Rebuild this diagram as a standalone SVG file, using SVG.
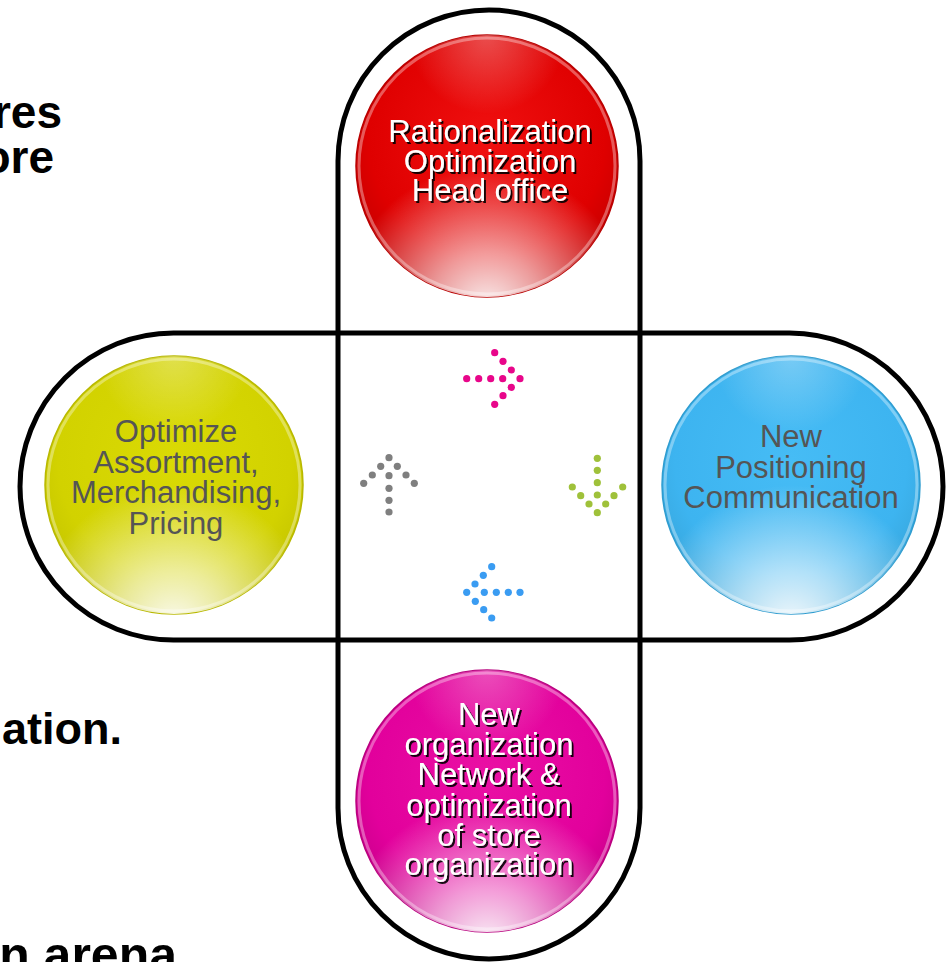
<svg xmlns="http://www.w3.org/2000/svg" width="947" height="962" viewBox="0 0 947 962">
  <style>
    .frame { fill: none; stroke: #000; stroke-width: 5; }
    .side { font-family: "Liberation Sans", Arial, sans-serif; font-weight: bold; fill: #000; text-anchor: end; }
    .lbl { font-family: "Liberation Sans", Arial, sans-serif; font-size: 31px; text-anchor: middle; }
    .lbl-w { fill: #fff; filter: url(#shadow); }
    .lbl-g { fill: #555; }
    .glow { fill: url(#bottomGlow); }
    .sheen { fill: url(#topSheen); }
    .rim { fill: none; stroke: #fff; stroke-opacity: 0.35; stroke-width: 3; }
    .pink circle { fill: #e8068a; }
    .gray circle { fill: #7f7f7f; }
    .green circle { fill: #9fc13a; }
    .blue circle { fill: #3a9cf2; }
  </style>
  <defs>
    <filter id="shadow" x="-10%" y="-10%" width="120%" height="130%">
      <feDropShadow dx="2" dy="2" stdDeviation="0.4" flood-color="#000" flood-opacity="0.9"/>
    </filter>
    <radialGradient id="bottomGlow" cx="0.5" cy="1.05" r="0.55">
      <stop offset="0" stop-color="#fff" stop-opacity="0.95"/>
      <stop offset="0.4" stop-color="#fff" stop-opacity="0.6"/>
      <stop offset="1" stop-color="#fff" stop-opacity="0"/>
    </radialGradient>
    <radialGradient id="topSheen" cx="0.5" cy="0" r="0.3">
      <stop offset="0" stop-color="#fff" stop-opacity="0.3"/>
      <stop offset="1" stop-color="#fff" stop-opacity="0"/>
    </radialGradient>
    <radialGradient id="redFill" cx="0.5" cy="0.4" r="0.6">
      <stop offset="0" stop-color="#f01010"/>
      <stop offset="0.75" stop-color="#df0000"/>
      <stop offset="1" stop-color="#c40000"/>
    </radialGradient>
    <radialGradient id="yellowFill" cx="0.5" cy="0.4" r="0.6">
      <stop offset="0" stop-color="#dada04"/>
      <stop offset="0.75" stop-color="#d2d200"/>
      <stop offset="1" stop-color="#c4c400"/>
    </radialGradient>
    <radialGradient id="blueFill" cx="0.5" cy="0.4" r="0.6">
      <stop offset="0" stop-color="#46bcf5"/>
      <stop offset="0.75" stop-color="#3db4f0"/>
      <stop offset="1" stop-color="#37a6dc"/>
    </radialGradient>
    <radialGradient id="magentaFill" cx="0.5" cy="0.4" r="0.6">
      <stop offset="0" stop-color="#ea10a4"/>
      <stop offset="0.75" stop-color="#e2009c"/>
      <stop offset="1" stop-color="#c8008a"/>
    </radialGradient>
  </defs>

  <rect width="947" height="962" fill="#fff"/>

  <!-- partially visible side headings -->
  <g id="side-text">
    <text class="side" x="62" y="128" font-size="46">res</text>
    <text class="side" x="54" y="173" font-size="46">ore</text>
    <text class="side" x="122" y="744" font-size="45">ation.</text>
    <text class="side" x="177" y="972" font-size="50">n arena</text>
  </g>

  <!-- cross-shaped frame made of two capsules -->
  <g id="frame">
    <rect class="frame" x="338" y="10" width="302" height="949" rx="151" ry="151"/>
    <rect class="frame" x="20" y="333" width="923" height="307" rx="153.5" ry="153.5"/>
  </g>

  <g id="node-head-office">
    <circle cx="487" cy="166" r="131" fill="url(#redFill)" stroke="#b80000" stroke-width="1.5"/>
    <circle cx="487" cy="166" r="128" class="rim"/>
    <circle cx="487" cy="166" r="131" class="sheen"/>
    <circle cx="487" cy="166" r="131" class="glow"/>
    <text class="lbl lbl-w" x="490" y="142">Rationalization</text>
    <text class="lbl lbl-w" x="490" y="172">Optimization</text>
    <text class="lbl lbl-w" x="490" y="201">Head office</text>
  </g>

  <g id="node-assortment">
    <circle cx="174" cy="485" r="129" fill="url(#yellowFill)" stroke="#b8b800" stroke-width="1.5"/>
    <circle cx="174" cy="485" r="126" class="rim"/>
    <circle cx="174" cy="485" r="129" class="sheen"/>
    <circle cx="174" cy="485" r="129" class="glow"/>
    <text class="lbl lbl-g" x="176" y="442">Optimize</text>
    <text class="lbl lbl-g" x="176" y="473">Assortment,</text>
    <text class="lbl lbl-g" x="176" y="503">Merchandising,</text>
    <text class="lbl lbl-g" x="176" y="534">Pricing</text>
  </g>

  <g id="node-positioning">
    <circle cx="791" cy="485" r="129" fill="url(#blueFill)" stroke="#2f9ccf" stroke-width="1.5"/>
    <circle cx="791" cy="485" r="126" class="rim"/>
    <circle cx="791" cy="485" r="129" class="sheen"/>
    <circle cx="791" cy="485" r="129" class="glow"/>
    <text class="lbl lbl-g" x="791" y="447">New</text>
    <text class="lbl lbl-g" x="791" y="478">Positioning</text>
    <text class="lbl lbl-g" x="791" y="508">Communication</text>
  </g>

  <g id="node-store-network">
    <circle cx="487" cy="801" r="131" fill="url(#magentaFill)" stroke="#b8007e" stroke-width="1.5"/>
    <circle cx="487" cy="801" r="128" class="rim"/>
    <circle cx="487" cy="801" r="131" class="sheen"/>
    <circle cx="487" cy="801" r="131" class="glow"/>
    <text class="lbl lbl-w" x="489" y="725">New</text>
    <text class="lbl lbl-w" x="489" y="755">organization</text>
    <text class="lbl lbl-w" x="489" y="785">Network &amp;</text>
    <text class="lbl lbl-w" x="489" y="816">optimization</text>
    <text class="lbl lbl-w" x="489" y="846">of store</text>
    <text class="lbl lbl-w" x="489" y="875">organization</text>
  </g>

  <!-- dotted cycle arrows in the centre square -->
  <g id="connectors">
    <g class="pink">
      <circle cx="466.7" cy="378.7" r="3.6"/><circle cx="478.7" cy="378.7" r="3.6"/>
      <circle cx="490.7" cy="378.7" r="3.6"/><circle cx="502.7" cy="378.7" r="3.6"/>
      <circle cx="520" cy="378.7" r="3.6"/>
      <circle cx="494.7" cy="352.7" r="3.6"/><circle cx="503" cy="361.3" r="3.6"/>
      <circle cx="511.3" cy="370" r="3.6"/><circle cx="511.3" cy="387.3" r="3.6"/>
      <circle cx="503" cy="395.7" r="3.6"/><circle cx="494.7" cy="404.3" r="3.6"/>
    </g>
    <g class="green">
      <circle cx="597.3" cy="458.3" r="3.6"/><circle cx="597.3" cy="470.3" r="3.6"/>
      <circle cx="597.3" cy="482.7" r="3.6"/><circle cx="597.3" cy="495" r="3.6"/>
      <circle cx="597.3" cy="512.7" r="3.6"/>
      <circle cx="572.3" cy="487" r="3.6"/><circle cx="580.7" cy="495.7" r="3.6"/>
      <circle cx="589" cy="504" r="3.6"/><circle cx="622.7" cy="487" r="3.6"/>
      <circle cx="614" cy="495.7" r="3.6"/><circle cx="605.7" cy="504" r="3.6"/>
    </g>
    <g class="blue">
      <circle cx="466.7" cy="592.3" r="3.6"/><circle cx="484.3" cy="592.3" r="3.6"/>
      <circle cx="496.3" cy="592.3" r="3.6"/><circle cx="508.3" cy="592.3" r="3.6"/>
      <circle cx="520" cy="592.3" r="3.6"/>
      <circle cx="475" cy="584" r="3.6"/><circle cx="483.3" cy="575.3" r="3.6"/>
      <circle cx="491.7" cy="566.7" r="3.6"/><circle cx="475.3" cy="601.3" r="3.6"/>
      <circle cx="483.7" cy="609.7" r="3.6"/><circle cx="491.7" cy="618" r="3.6"/>
    </g>
    <g class="gray">
      <circle cx="389" cy="457.7" r="3.6"/><circle cx="389" cy="475.7" r="3.6"/>
      <circle cx="389" cy="488.3" r="3.6"/><circle cx="389" cy="500.3" r="3.6"/>
      <circle cx="389" cy="512" r="3.6"/>
      <circle cx="380.7" cy="466.3" r="3.6"/><circle cx="372.3" cy="475" r="3.6"/>
      <circle cx="363.7" cy="483.3" r="3.6"/><circle cx="397.3" cy="466.3" r="3.6"/>
      <circle cx="406" cy="475" r="3.6"/><circle cx="414.3" cy="483.3" r="3.6"/>
    </g>
  </g>
</svg>
